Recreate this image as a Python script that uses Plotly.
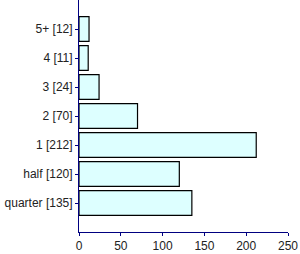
import plotly.graph_objects as go

categories = ["quarter [135]", "half [120]", "1 [212]", "2 [70]", "3 [24]", "4 [11]", "5+ [12]"]
values = [135, 120, 212, 70, 24, 11, 12]
x_ticks = [0, 50, 100, 150, 200, 250]

fig = go.Figure(go.Bar(
    x=values, y=categories, orientation="h",
    marker=dict(color="#ddffff", line=dict(color="black", width=1.2)),
    width=0.86,
))
fig.update_layout(
    width=300, height=254,
    margin=dict(l=79, r=12, t=0, b=22),
    paper_bgcolor="white", plot_bgcolor="white",
    showlegend=False,
    font=dict(family="Liberation Sans, Arial, sans-serif", size=12, color="#222"),
)
fig.update_xaxes(
    range=[0, 250], tickvals=x_ticks, showgrid=False, zeroline=False,
    showline=True, linecolor="#000080", linewidth=1,
    ticks="outside", ticklen=3, tickcolor="#000080",
)
fig.update_yaxes(
    range=[-1, 7], showgrid=False, zeroline=False,
    showline=True, linecolor="#000080", linewidth=1,
    ticks="outside", ticklen=3, tickcolor="#000080",
)
fig.write_html("out.html")
